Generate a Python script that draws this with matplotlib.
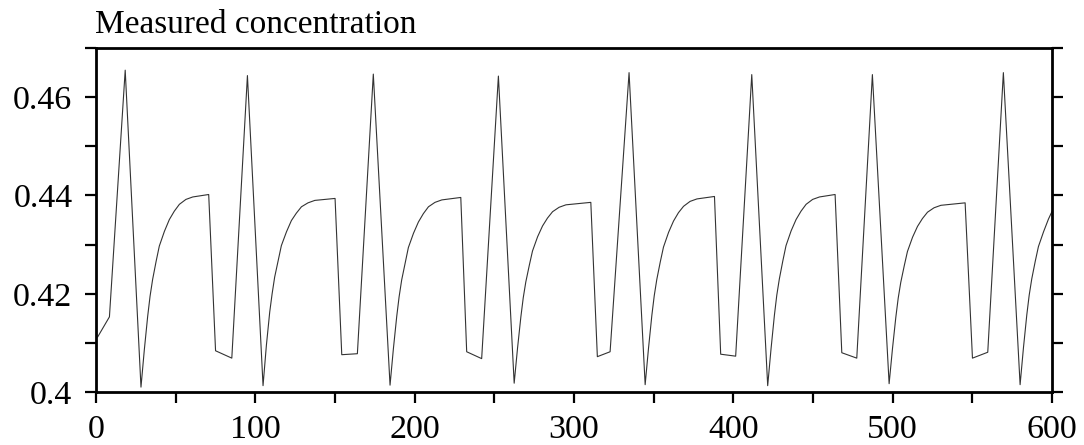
import numpy as np
import matplotlib.pyplot as plt
from matplotlib.ticker import MultipleLocator

plt.rcParams['font.family'] = ['Liberation Serif', 'DejaVu Serif']

# time axis and measured concentration
time = [1.0, 8.4, 18.3, 28.2,
        30.3, 32.4, 33.9, 35.5, 37.7, 39.7, 42.9, 46.0, 49.1, 52.3, 56.4, 60.7, 70.7,
        75.0, 85.2, 95.0, 104.8,
        106.9, 109.0, 110.5, 112.1, 114.3, 116.3, 119.5, 122.6, 125.7, 128.9, 133.0, 137.3, 150.0,
        154.2, 164.0, 174.0, 184.5,
        186.6, 188.7, 190.2, 191.8, 194.0, 196.0, 199.2, 202.3, 205.4, 208.6, 212.7, 217.0, 228.9,
        232.6, 242.0, 252.5, 262.4,
        264.5, 266.6, 268.1, 269.7, 271.9, 273.9, 277.1, 280.2, 283.3, 286.5, 290.6, 294.9, 310.5,
        314.6, 322.6, 334.5, 344.6,
        346.7, 348.8, 350.3, 351.9, 354.1, 356.1, 359.3, 362.4, 365.5, 368.7, 372.8, 377.1, 388.1,
        392.0, 401.4, 411.5, 421.5,
        423.6, 425.7, 427.2, 428.8, 431.0, 433.0, 436.2, 439.3, 442.4, 445.6, 449.7, 454.0, 463.8,
        468.0, 477.4, 487.2, 497.7,
        499.8, 501.9, 503.4, 505.0, 507.2, 509.2, 512.4, 515.5, 518.6, 521.8, 525.9, 530.2, 545.4,
        550.0, 559.6, 569.4, 579.9,
        582.0, 584.1, 585.6, 587.2, 589.4, 591.4, 594.6, 597.7, 600.0]
conc = [0.4112, 0.4153, 0.4655, 0.4010,
        0.4086, 0.4154, 0.4195, 0.4229, 0.4266, 0.4297, 0.4327, 0.4351, 0.4368, 0.4382, 0.4392, 0.4397, 0.4402,
        0.4084, 0.4069, 0.4644, 0.4013,
        0.4095, 0.4163, 0.4200, 0.4234, 0.4268, 0.4298, 0.4326, 0.4349, 0.4364, 0.4377, 0.4385, 0.4390, 0.4394,
        0.4076, 0.4078, 0.4647, 0.4014,
        0.4088, 0.4154, 0.4194, 0.4228, 0.4263, 0.4294, 0.4323, 0.4346, 0.4363, 0.4377, 0.4386, 0.4391, 0.4396,
        0.4082, 0.4068, 0.4643, 0.4018,
        0.4089, 0.4153, 0.4192, 0.4224, 0.4258, 0.4287, 0.4316, 0.4338, 0.4354, 0.4367, 0.4376, 0.4381, 0.4386,
        0.4072, 0.4082, 0.4650, 0.4015,
        0.4089, 0.4156, 0.4196, 0.4229, 0.4265, 0.4295, 0.4325, 0.4348, 0.4365, 0.4378, 0.4388, 0.4393, 0.4398,
        0.4077, 0.4073, 0.4646, 0.4013,
        0.4088, 0.4156, 0.4197, 0.4230, 0.4267, 0.4298, 0.4328, 0.4351, 0.4368, 0.4382, 0.4392, 0.4397, 0.4402,
        0.4080, 0.4069, 0.4646, 0.4017,
        0.4088, 0.4152, 0.4191, 0.4223, 0.4257, 0.4286, 0.4315, 0.4337, 0.4353, 0.4366, 0.4375, 0.4380, 0.4385,
        0.4069, 0.4081, 0.4650, 0.4015,
        0.4090, 0.4157, 0.4197, 0.4230, 0.4266, 0.4296, 0.4326, 0.4352, 0.4368]

fig = plt.figure(figsize=(10.84, 4.45), dpi=100)
ax = fig.add_axes([0.0886, 0.119, 0.882, 0.773])
ax.plot(time, conc, color='#333333', lw=0.8)

ax.set_xlim(0, 600)
ax.set_ylim(0.4, 0.47)
ax.xaxis.set_major_locator(MultipleLocator(100))
ax.xaxis.set_minor_locator(MultipleLocator(50))
ax.yaxis.set_major_locator(MultipleLocator(0.02))
ax.yaxis.set_minor_locator(MultipleLocator(0.01))
ax.yaxis.set_major_formatter(plt.FuncFormatter(lambda v, p: ('%.2f' % v).rstrip('0')))

for s in ax.spines.values():
    s.set_linewidth(2)
ax.tick_params(which='both', direction='out', length=8, width=1.6,
               top=False, right=True, labelright=False)
ax.tick_params(axis='both', labelsize=24.5)
ax.tick_params(axis='x', pad=8)
ax.tick_params(axis='y', pad=9)

fig.text(0.088, 1 - 33 / 445, 'Measured concentration', fontsize=24, va='baseline', ha='left')

plt.savefig('out.png', dpi=100)
